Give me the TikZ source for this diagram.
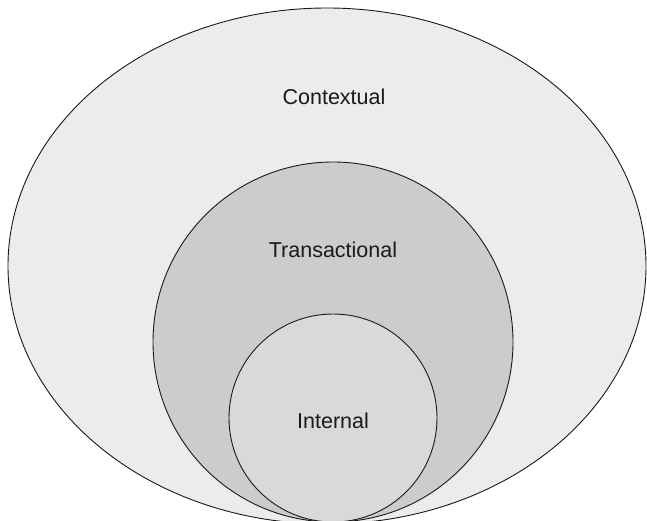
\documentclass[tikz,border=0pt]{standalone}
\usepackage{fontspec}
\setmainfont{Liberation Sans}
\definecolor{outerfill}{HTML}{EBECEB}
\definecolor{midfill}{HTML}{CCCCCD}
\definecolor{innerfill}{HTML}{D8D9DA}
\begin{document}
\begin{tikzpicture}[x=1pt,y=-1pt,
  ring/.style={draw=black!90, line width=0.9pt},
  lbl/.style={font=\fontsize{21.5}{25}\selectfont, text=black!90}]
\useasboundingbox (0,0) rectangle (647,521);
\clip (0,0) rectangle (647,521);
% nested layers, all touching at the bottom
\draw[ring, fill=outerfill] (327,266) ellipse [x radius=319, y radius=258];
\draw[ring, fill=midfill] (333,342) circle [radius=180];
\draw[ring, fill=innerfill] (333,418) circle [radius=104];
\node[lbl] (ctx) at (334,97) {Contextual};
\node[lbl] (trn) at (333,250) {Transactional};
\node[lbl] (int) at (333,421) {Internal};
\end{tikzpicture}
\end{document}
